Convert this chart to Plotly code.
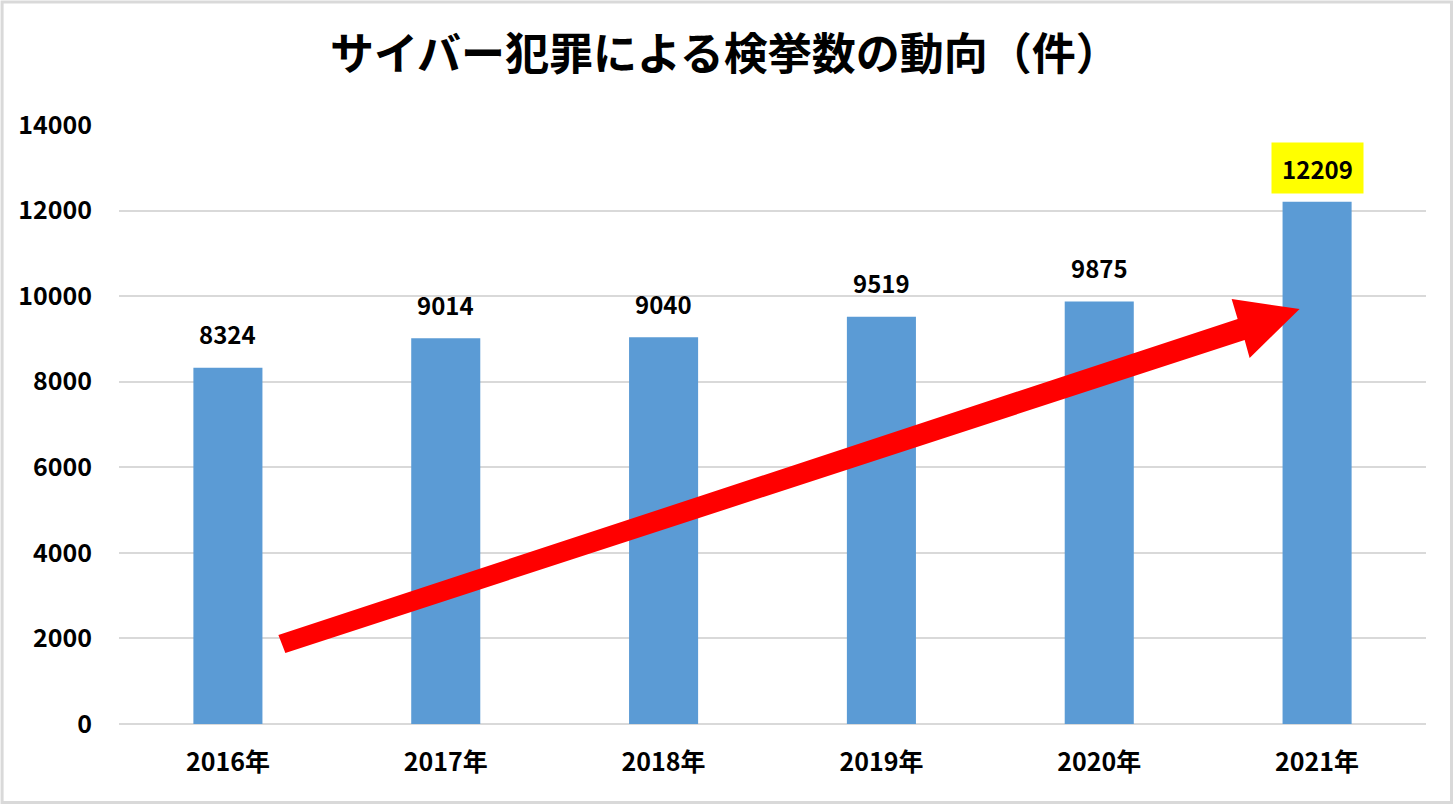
import plotly.graph_objects as go

# ---- data ----
years = ["2016年", "2017年", "2018年", "2019年", "2020年", "2021年"]
arrests = [8324, 9014, 9040, 9519, 9875, 12209]
y_ticks = [0, 2000, 4000, 6000, 8000, 10000, 12000, 14000]
title_text = "サイバー犯罪による検挙数の動向（件）"

W, H = 1454, 804
L, R, T, B = 118.5, 27.5, 125, 80
PW, PH = W - L - R, H - T - B

FONT = "Noto Sans CJK JP, Noto Sans, sans-serif"
BAR = "#5b9bd5"
GRID = "#d9d9d9"


def px2paper(px, py):
    return (px - L) / PW, (H - B - py) / PH


fig = go.Figure()
fig.add_trace(go.Bar(
    x=years, y=arrests, marker=dict(color=BAR, line=dict(width=0)),
    width=0.317, hoverinfo="x+y",
))

# data labels
for i, (yr, v) in enumerate(zip(years, arrests)):
    last = i == len(years) - 1
    fig.add_annotation(
        x=yr, y=v, xref="x", yref="y", text=str(v), showarrow=False,
        yanchor="middle", xanchor="center", yshift=34,
        font=dict(family=FONT, size=24, color="#000000", weight="bold"),
        bgcolor="#ffff00" if last else "rgba(0,0,0,0)",
        width=91 if last else None, height=50 if last else None,
        borderpad=0,
    )

# red arrow (decorative) as polygon in pixel space -> paper
arrow_px = [(278, 635), (1238, 319), (1232, 299), (1300, 309),
            (1250, 358), (1245, 340), (285, 653)]
pts = [px2paper(x, y) for x, y in arrow_px]
path = "M " + " L ".join(f"{x:.5f},{y:.5f}" for x, y in pts) + " Z"
fig.add_shape(type="path", path=path, xref="paper", yref="paper",
              fillcolor="#ff0000", line=dict(width=0), layer="above")

# outer gray frame
x0, y0 = px2paper(1.5, H - 1.5)
x1, y1 = px2paper(W - 2, 2)
fig.add_shape(type="rect", xref="paper", yref="paper", x0=x0, y0=y0, x1=x1, y1=y1,
              line=dict(color="#d9d9d9", width=3), fillcolor="rgba(0,0,0,0)", layer="above")

fig.update_layout(
    width=W, height=H,
    margin=dict(l=L, r=R, t=T, b=B, pad=0),
    paper_bgcolor="#ffffff", plot_bgcolor="#ffffff",
    showlegend=False,
    title=dict(text=title_text, x=0.4985, xanchor="center", y=1 - 55 / H, yanchor="middle",
               font=dict(family=FONT, size=44, color="#000000", weight="bold")),
    xaxis=dict(type="category", showgrid=False, showline=False, zeroline=False,
               ticks="", ticklabelstandoff=21,
               tickfont=dict(family=FONT, size=25, color="#000000", weight="bold")),
    yaxis=dict(range=[0, 14000], tickvals=y_ticks, ticktext=[str(t) for t in y_ticks],
               showgrid=True, gridcolor=GRID, gridwidth=1.5,
               zeroline=True, zerolinecolor=GRID, zerolinewidth=1.5,
               showline=False, ticks="", ticklabelstandoff=26,
               tickfont=dict(family=FONT, size=25, color="#000000", weight="bold")),
    bargap=0.683,
)

fig.write_html("out.html")
